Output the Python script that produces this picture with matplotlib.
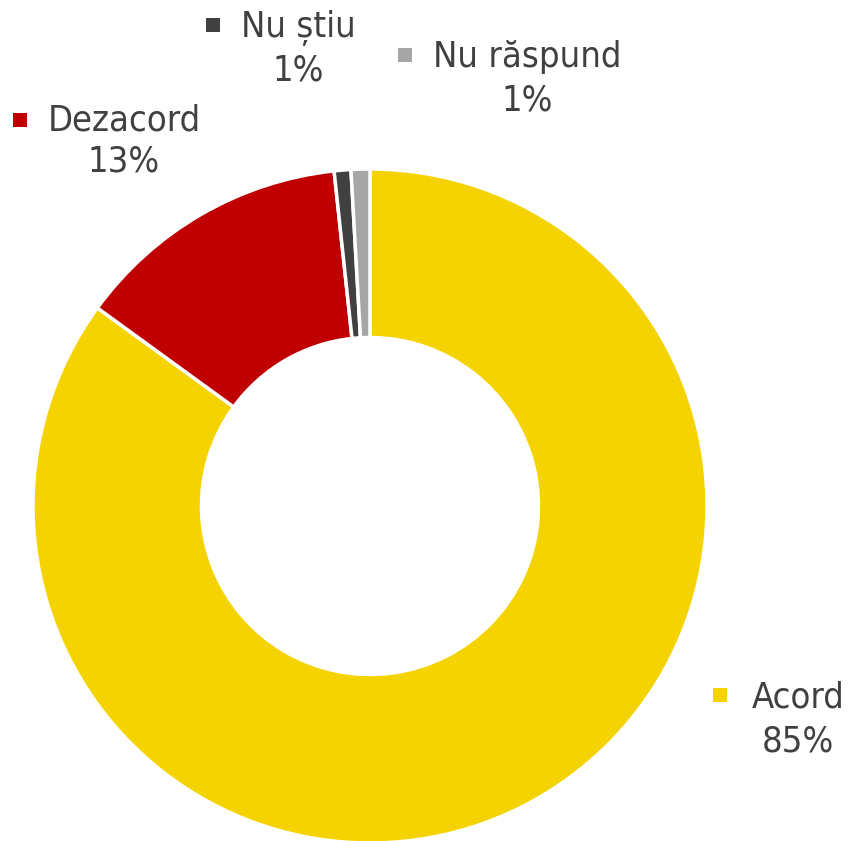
import matplotlib

matplotlib.use("Agg")
import matplotlib.pyplot as plt

# data
categories = ["Acord", "Dezacord", "Nu știu", "Nu răspund"]
values = [85.0, 13.3, 0.8, 0.9]
pct_labels = ["85%", "13%", "1%", "1%"]
colors = ["#F5D300", "#C00000", "#404040", "#A6A6A6"]

TEXT_COLOR = "#404040"
FONT = ["DejaVu Sans"]
H = 841  # figure height in px, used to flip y (label positions read top-down)

fig = plt.figure(figsize=(8.49, 8.41), dpi=100)
ax = fig.add_axes([0, 0, 1, 1])

ax.pie(
    values,
    colors=colors,
    startangle=90,
    counterclock=False,
    center=(370, H - 506),
    radius=337,
    wedgeprops=dict(width=337 * 0.5, edgecolor="white", linewidth=2.5),
    frame=True,
)
ax.set_xlim(0, 849)
ax.set_ylim(0, H)
ax.set_aspect("equal")
ax.axis("off")

# label placement: (square x, square y, name center x, name y, pct y), top-down px
label_pos = {
    "Acord": (720, 695, 798, 697, 742),
    "Dezacord": (20, 120, 124, 120, 161),
    "Nu știu": (213, 25, 298, 28, 70),
    "Nu răspund": (405, 55, 527, 57, 100),
}

for name, pct, col in zip(categories, pct_labels, colors):
    sx, sy, tx, ty, py = label_pos[name]
    ax.scatter([sx], [H - sy], marker="s", s=110, color=col, linewidths=0)
    ax.text(tx, H - ty, name, ha="center", va="center", fontsize=26,
            color=TEXT_COLOR, family=FONT, fontstretch="condensed")
    ax.text(tx, H - py, pct, ha="center", va="center", fontsize=26,
            color=TEXT_COLOR, family=FONT, fontstretch="condensed")

fig.savefig("out.png", dpi=100, facecolor="white")
